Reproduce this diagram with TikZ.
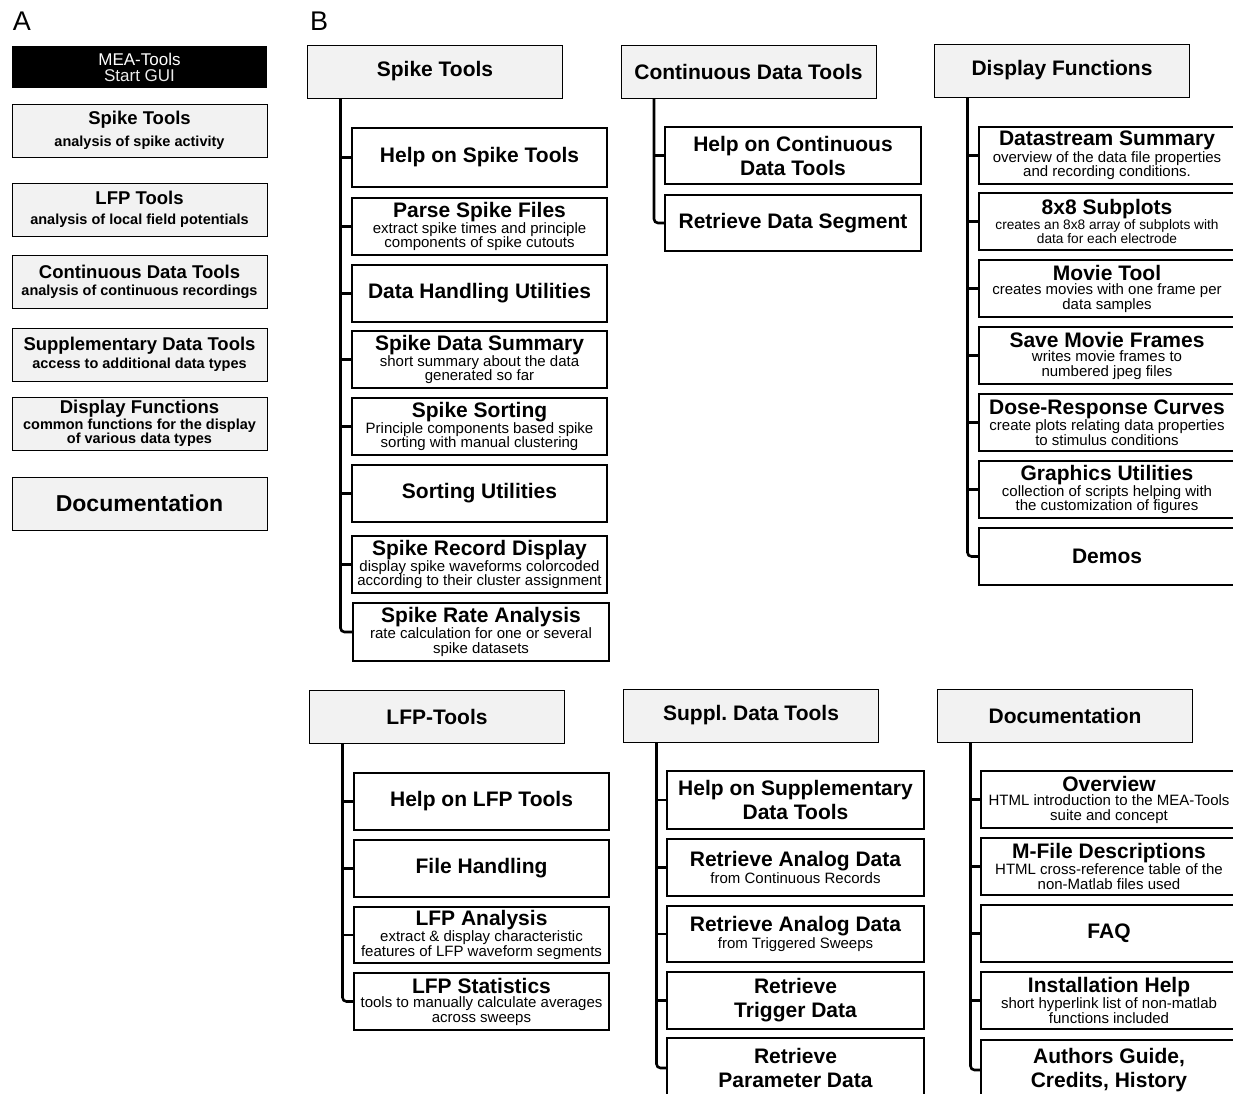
\documentclass[tikz,border=0pt]{standalone}
\usepackage{fontspec}
\setmainfont{Liberation Sans}
\usetikzlibrary{positioning}

\newcommand{\ttl}[1]{{\fontsize{21}{23}\selectfont\bfseries #1}}
\newcommand{\attl}[1]{{\fontsize{18.5}{20}\selectfont #1}}

\begin{document}
\begin{tikzpicture}[x=1pt,y=-1pt,
  guibox/.style={fill=black,text=white,minimum width=255,minimum height=42,inner sep=0pt,align=center,font=\fontsize{17}{17}\selectfont},
  abox/.style={draw,line width=0.8pt,fill=gray!10,minimum width=255,minimum height=53,inner sep=0pt,align=center,font=\bfseries\fontsize{14.5}{13}\selectfont},
  headbox/.style={draw,line width=0.8pt,fill=gray!10,minimum width=255,minimum height=53,inner sep=0pt,outer sep=0pt,font=\fontsize{21}{23}\selectfont\bfseries},
  itembox/.style={draw,line width=1.3pt,fill=white,minimum width=255,minimum height=57,inner sep=0pt,outer sep=0pt,anchor=north west,align=center,font=\fontsize{15}{14.5}\selectfont},
  bigitem/.style={itembox,font=\fontsize{21}{24}\selectfont\bfseries},
  panel/.style={font=\fontsize{27}{27}\selectfont},
  trunk/.style={line width=2.6pt,rounded corners=4pt},
  twig/.style={line width=2.6pt}
]
  \useasboundingbox (0,0) rectangle (1233,1093);
  \fill[white] (0,0) rectangle (1233,1093);
  \clip (0,0) rectangle (1233,1093);

  % panel A
  \node[panel] (labA) at (22,21) {A};
  \node[guibox] (gui) at (139.5,67) {MEA-Tools\\[-1pt]{\color{white!85!gray}Start GUI}};
  \node[abox] (aspike) at (139.5,130.5) {\attl{Spike Tools}\\[7pt]analysis of spike activity};
  \node[abox] (alfp) at (139.5,209.5) {\attl{LFP Tools}\\[7pt]analysis of local field potentials};
  \node[abox] (acont) at (139.5,281.5) {\attl{Continuous Data Tools}\\[4pt]analysis of continuous recordings};
  \node[abox] (asupp) at (139.5,354.5) {\attl{Supplementary Data Tools}\\[3pt]access to additional data types};
  \node[abox] (adisp) at (139.5,423.5) {\attl{Display Functions}\\[0pt]common functions for the display\\of various data types};
  \node[abox] (adoc) at (139.5,503.5) {{\fontsize{23}{25}\selectfont Documentation}};

  % panel B, headers
  \node[panel] (labB) at (319,21) {B};
  \node[headbox] (hspike) at (435,71.5) {Spike Tools};
  \node[headbox] (hcont) at (748.5,71.5) {Continuous Data Tools};
  \node[headbox] (hdisp) at (1062,70.5) {Display Functions};
  \node[headbox] (hlfp) at (437,716.5) {LFP-Tools};
  \node[headbox] (hsupp) at (751,715.5) {Suppl.\ Data Tools};
  \node[headbox] (hdoc) at (1065,715.5) {Documentation};

  % spike tools
  \node[bigitem,minimum height=59] (s1) at (352,128) {Help on Spike Tools};
  \node[itembox] (s2) at (352,198) {\ttl{Parse Spike Files}\\extract spike times and principle\\components of spike cutouts};
  \node[bigitem] (s3) at (352,265) {Data Handling Utilities};
  \node[itembox] (s4) at (352,331) {\ttl{Spike Data Summary}\\short summary about the data\\generated so far};
  \node[itembox] (s5) at (352,398) {\ttl{Spike Sorting}\\Principle components based spike\\sorting with manual clustering};
  \node[bigitem] (s6) at (352,465) {Sorting Utilities};
  \node[itembox] (s7) at (352,536) {\ttl{Spike Record Display}\\display spike waveforms colorcoded\\according to their cluster assignment};
  \node[itembox,minimum width=256,minimum height=58] (s8) at (353,603) {\ttl{Spike Rate Analysis}\\rate calculation for one or several\\spike datasets};

  % continuous data tools
  \node[bigitem,minimum width=256] (c1) at (665,127) {Help on Continuous\\Data Tools};
  \node[bigitem,minimum width=256,minimum height=56] (c2) at (665,195) {Retrieve Data Segment};

  % display functions
  \node[itembox,minimum width=256] (d1) at (979,127) {\ttl{Datastream Summary}\\overview of the data file properties\\and recording conditions.};
  \node[itembox,minimum width=256,font=\fontsize{13.7}{13.5}\selectfont] (d2) at (979,193) {\ttl{8x8 Subplots}\\creates an 8x8 array of subplots with\\data for each electrode};
  \node[itembox,minimum width=256] (d3) at (979,260) {\ttl{Movie Tool}\\creates movies with one frame per\\data samples};
  \node[itembox,minimum width=256] (d4) at (979,327) {\ttl{Save Movie Frames}\\writes movie frames to\\numbered jpeg files};
  \node[itembox,minimum width=256] (d5) at (979,394) {\ttl{Dose-Response Curves}\\create plots relating data properties\\to stimulus conditions};
  \node[itembox,minimum width=256] (d6) at (979,461) {\ttl{Graphics Utilities}\\collection of scripts helping with\\the customization of figures};
  \node[bigitem,minimum width=256] (d7) at (979,528) {Demos};

  % lfp tools
  \node[bigitem] (l1) at (354,773) {Help on LFP Tools};
  \node[bigitem] (l2) at (354,840) {File Handling};
  \node[itembox,minimum height=56] (l3) at (354,907) {\ttl{LFP Analysis}\\extract \& display characteristic\\features of LFP waveform segments};
  \node[itembox] (l4) at (354,973) {\ttl{LFP Statistics}\\tools to manually calculate averages\\across sweeps};

  % supplementary data tools
  \node[bigitem,minimum width=257,minimum height=58] (u1) at (667,771) {Help on Supplementary\\Data Tools};
  \node[itembox,minimum width=257] (u2) at (667,839) {\ttl{Retrieve Analog Data}\\from Continuous Records};
  \node[itembox,minimum width=257,minimum height=56] (u3) at (667,906) {\ttl{Retrieve Analog Data}\\from Triggered Sweeps};
  \node[bigitem,minimum width=257] (u4) at (667,972) {Retrieve\\Trigger Data};
  \node[bigitem,minimum width=257,minimum height=60] (u5) at (667,1038) {Retrieve\\Parameter Data};

  % documentation
  \node[itembox,minimum width=256] (o1) at (981,771) {\ttl{Overview}\\HTML introduction to the MEA-Tools\\suite and concept};
  \node[itembox,minimum width=256] (o2) at (981,838) {\ttl{M-File Descriptions}\\HTML cross-reference table of the\\non-Matlab files used};
  \node[bigitem,minimum width=256] (o3) at (981,905) {FAQ};
  \node[itembox,minimum width=256] (o4) at (981,972) {\ttl{Installation Help}\\short hyperlink list of non-matlab\\functions included};
  \node[bigitem,minimum width=256,minimum height=60] (o5) at (981,1040) {Authors Guide,\\Credits, History};

  % tree connectors
  \coordinate (tspike) at ([xshift=33]hspike.south west);
  \coordinate (tcont) at ([xshift=33]hcont.south west);
  \coordinate (tdisp) at ([xshift=33]hdisp.south west);
  \coordinate (tlfp) at ([xshift=33]hlfp.south west);
  \coordinate (tsupp) at ([xshift=33]hsupp.south west);
  \coordinate (tdoc) at ([xshift=33]hdoc.south west);

  \draw[trunk] (tspike) |- (s8.west);
  \foreach \n in {s1,s2,s3,s4,s5,s6,s7} \draw[twig] (tspike |- \n.west) -- (\n.west);
  \draw[trunk] (tcont) |- (c2.west);
  \draw[twig] (tcont |- c1.west) -- (c1.west);
  \draw[trunk] (tdisp) |- (d7.west);
  \foreach \n in {d1,d2,d3,d4,d5,d6} \draw[twig] (tdisp |- \n.west) -- (\n.west);
  \draw[trunk] (tlfp) |- (l4.west);
  \foreach \n in {l1,l2,l3} \draw[twig] (tlfp |- \n.west) -- (\n.west);
  \draw[trunk] (tsupp) |- (u5.west);
  \foreach \n in {u1,u2,u3,u4} \draw[twig] (tsupp |- \n.west) -- (\n.west);
  \draw[trunk] (tdoc) |- (o5.west);
  \foreach \n in {o1,o2,o3,o4} \draw[twig] (tdoc |- \n.west) -- (\n.west);
\end{tikzpicture}
\end{document}
